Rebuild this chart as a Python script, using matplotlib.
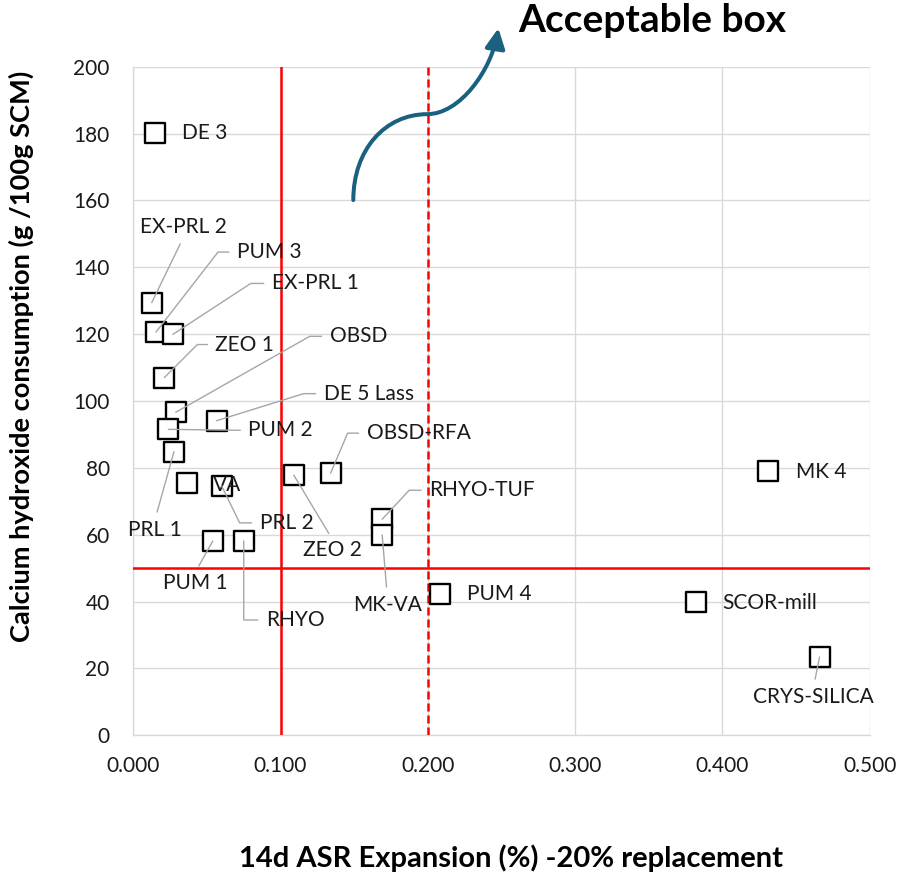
import matplotlib
matplotlib.use("Agg")
import matplotlib.pyplot as plt
from matplotlib.path import Path
from matplotlib.patches import FancyArrowPatch
from matplotlib.ticker import FormatStrFormatter

plt.rcParams['font.family'] = ['Lato', 'DejaVu Sans']

# 14d ASR expansion vs. CH consumption for each SCM
materials = ["DE 3", "EX-PRL 2", "PUM 3", "EX-PRL 1", "ZEO 1", "OBSD", "DE 5 Lass",
             "PUM 2", "PRL 1", "VA", "PRL 2", "ZEO 2", "OBSD-RFA", "RHYO-TUF",
             "MK-VA", "PUM 1", "RHYO", "PUM 4", "MK 4", "SCOR-mill", "CRYS-SILICA"]
expansion = [0.015, 0.0125, 0.0154, 0.0268, 0.0211, 0.0288, 0.0566,
             0.0238, 0.0276, 0.0367, 0.060, 0.109, 0.134, 0.169,
             0.169, 0.054, 0.075, 0.208, 0.431, 0.382, 0.466]
ch_consumed = [180.1, 129.4, 120.6, 119.9, 107.0, 96.6, 94.1,
               91.5, 84.8, 75.5, 74.6, 77.8, 78.4, 64.6,
               59.9, 58.1, 58.1, 42.2, 79.0, 39.8, 23.4]

ch_limit = 50
expansion_limit = 0.1
expansion_upper = 0.2

xticks = [0.0, 0.1, 0.2, 0.3, 0.4, 0.5]
yticks = [0, 20, 40, 60, 80, 100, 120, 140, 160, 180, 200]

# label placement: pixel offset of the text from its point, leader type, arm length
label_layout = {
    "DE 3": (27, 0, "right", 0),
    "MK 4": (28, -1, "right", 0),
    "SCOR-mill": (26, -1, "right", 0),
    "PUM 4": (27, 0, "right", 0),
    "VA": (26, -2, "right", 0),
    "EX-PRL 2": (32, 76, "above", 0),
    "PUM 3": (81, 80, "elbow", 11),
    "EX-PRL 1": (99, 51, "elbow", 13),
    "ZEO 1": (51, 33, "elbow", 10),
    "OBSD": (154, 76, "elbow", 12),
    "DE 5 Lass": (107, 27, "elbow", 12),
    "PUM 2": (80, -1, "side", 0),
    "OBSD-RFA": (36, 40, "elbow", 11),
    "RHYO-TUF": (47, 29, "elbow", 12),
    "PRL 2": (38, -37, "elbow", 12),
    "PRL 1": (-19, -78, "below", 0),
    "ZEO 2": (39, -75, "below", 0),
    "MK-VA": (5, -70, "below", 0),
    "PUM 1": (-18, -42, "below", 0),
    "RHYO": (22, -79, "elbow", 14),
    "CRYS-SILICA": (-6, -40, "below", 0),
}

fig = plt.figure(figsize=(8.97, 8.75), dpi=100)
ax = fig.add_axes([133.3 / 897, (875 - 735.2) / 875,
                   (869.6 - 133.3) / 897, (735.2 - 66.7) / 875])

ax.set_xlim(0, 0.5)
ax.set_ylim(0, 200)
ax.set_xticks(xticks)
ax.set_yticks(yticks)
ax.xaxis.set_major_formatter(FormatStrFormatter('%.3f'))
ax.tick_params(length=0, labelsize=15, colors='#1a1a1a')
ax.tick_params(axis='y', pad=17)
ax.tick_params(axis='x', pad=15)
ax.grid(color='#D9D9D9', lw=1.0)
ax.set_axisbelow(True)
for s in ['top', 'right']:
    ax.spines[s].set_visible(False)
for s in ['left', 'bottom']:
    ax.spines[s].set_color('#D9D9D9')
    ax.spines[s].set_linewidth(1.0)

# acceptance limits
ax.axvline(expansion_limit, color='red', lw=1.8, zorder=3)
ax.axhline(ch_limit, color='red', lw=1.8, zorder=3)
ax.axvline(expansion_upper, color='red', lw=1.8, ls=(0, (3.2, 1.6)), zorder=3)

ax.scatter(expansion, ch_consumed, marker='s', s=205, facecolor='white',
           edgecolor='black', linewidth=1.7, zorder=4)

gap = 8
lead = dict(arrowstyle='-', color='#A6A6A6', lw=1.0, shrinkB=0,
            shrinkA=gap * 0.72, patchA=None)
for name, x, y in zip(materials, expansion, ch_consumed):
    dx, dy, kind, arm = label_layout[name]
    kw = dict(xy=(x, y), xytext=(dx, dy), textcoords='offset pixels',
              fontsize=15, color='#1a1a1a', zorder=5)
    if kind == "right":
        ax.annotate(name, ha='left', va='center', **kw)
    elif kind == "above":
        ax.annotate(name, ha='center', va='center',
                    arrowprops=dict(relpos=(0.5, 0), **lead), **kw)
    elif kind == "below":
        ax.annotate(name, ha='center', va='center',
                    arrowprops=dict(relpos=(0.5, 1), **lead), **kw)
    elif kind == "side":
        ax.annotate(name, ha='left', va='center',
                    arrowprops=dict(relpos=(0, 0.5), **lead), **kw)
    else:
        ax.annotate(name, ha='left', va='center',
                    arrowprops=dict(relpos=(0, 0.5),
                                    connectionstyle=f"arc,angleA=180,angleB=0,armA={gap + arm},armB=0,rad=0",
                                    **lead), **kw)

# curved arrow pointing to the acceptable region
arrow_path = Path([(0.1494, 160.1), (0.1494, 175.2), (0.171, 185.8), (0.1996, 185.8),
                   (0.2218, 185.8), (0.2434, 199.0), (0.2479, 211.5)],
                  [Path.MOVETO, Path.CURVE4, Path.CURVE4, Path.CURVE4,
                   Path.CURVE4, Path.CURVE4, Path.CURVE4])
arrow = FancyArrowPatch(path=arrow_path, arrowstyle='-|>,head_length=0.6,head_width=0.3',
                        mutation_scale=20, color='#1A6180', lw=2.9, clip_on=False,
                        zorder=6)
ax.add_patch(arrow)
arrow.set_transform(ax.transData)

fig.text(652 / 897, 1 - 32 / 875, "Acceptable box", ha='center', va='baseline',
         fontsize=28, fontweight='bold', color='black')

ax.set_xlabel("14d ASR Expansion (%) -20% replacement", fontsize=21,
              fontweight='bold', va='center')
ax.xaxis.set_label_coords(0.513, -0.1837)
ax.set_ylabel("Calcium hydroxide consumption (g /100g SCM)", fontsize=19.6,
              fontweight='bold', va='center')
ax.yaxis.set_label_coords(-0.1525, 0.5665)

fig.savefig("out.png", dpi=100)
